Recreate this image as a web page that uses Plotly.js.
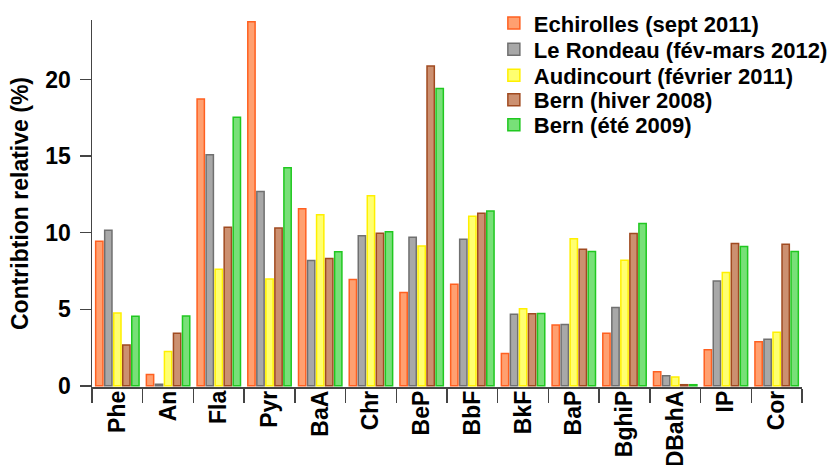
<!DOCTYPE html>
<html>
<head>
<meta charset="utf-8">
<script src="https://cdn.plot.ly/plotly-3.0.1.min.js"></script>
<style>html,body{margin:0;padding:0;background:#fff;}#chart{width:832px;height:465px;}</style>
</head>
<body>
<div id="chart"></div>
<script>
const categories = ["Phe","An","Fla","Pyr","BaA","Chr","BeP","BbF","BkF","BaP","BghiP","DBahA","IP","Cor"];
const seriesNames = ["Echirolles (sept 2011)","Le Rondeau (fév-mars 2012)","Audincourt (février 2011)","Bern (hiver 2008)","Bern (été 2009)"];
const echirolles = [9.45, 0.74, 18.74, 23.78, 11.57, 6.95, 6.1, 6.64, 2.11, 3.97, 3.43, 0.91, 2.35, 2.87];
const leRondeau  = [10.16, 0.1, 15.09, 12.7, 8.18, 9.81, 9.7, 9.58, 4.67, 4.01, 5.12, 0.65, 6.84, 3.04];
const audincourt = [4.75, 2.24, 7.62, 6.97, 11.18, 12.42, 9.14, 11.07, 5.04, 9.6, 8.21, 0.57, 7.4, 3.5];
const bernHiver  = [2.67, 3.43, 10.36, 10.31, 8.31, 9.97, 20.89, 11.27, 4.71, 8.92, 9.95, 0.07, 9.29, 9.25];
const bernEte    = [4.54, 4.56, 17.55, 14.24, 8.75, 10.07, 19.43, 11.42, 4.73, 8.77, 10.6, 0.07, 9.1, 8.77];

const values = [echirolles, leRondeau, audincourt, bernHiver, bernEte];
const fills = ["#FFA070", "#A8A8A8", "#FFFF70", "#CC9070", "#78E078"];
const lines = ["#FF6020", "#707070", "#FFF000", "#A04A20", "#20C820"];
const legendIds = ["legend", "legend2", "legend3", "legend4", "legend5"];
const legendY = [0.991, 0.920, 0.849, 0.782, 0.714];

const fam = "Liberation Sans, Arial, sans-serif";
const bold = (s) => ({family: fam, size: s, color: "#000", weight: "bold"});

const traces = values.map((v, i) => ({
  type: "bar",
  name: seriesNames[i],
  x: categories,
  y: v,
  legend: legendIds[i],
  marker: {color: fills[i], line: {color: lines[i], width: 1.5}},
  hoverinfo: "x+y+name"
}));

const layout = {
  width: 832, height: 465,
  margin: {l: 92, r: 30, t: 20, b: 78, autoexpand: false},
  paper_bgcolor: "#fff", plot_bgcolor: "#fff",
  barmode: "group",
  bargap: 0.11,
  bargroupgap: 0.19,
  font: bold(22),
  showlegend: true,
  xaxis: {
    type: "category",
    tickson: "boundaries",
    ticks: "outside", ticklen: 14, tickcolor: "#444", tickwidth: 1.5,
    showline: true, linecolor: "#444", linewidth: 1.5,
    showgrid: false, zeroline: false,
    tickangle: -90,
    ticklabelstandoff: -7,
    tickfont: bold(23),
    automargin: false
  },
  yaxis: {
    range: [-0.08, 23.9],
    tickvals: [0, 5, 10, 15, 20],
    ticks: "outside", ticklen: 11, tickcolor: "#444", tickwidth: 1.5,
    showline: true, linecolor: "#444", linewidth: 1.5,
    showgrid: false, zeroline: false,
    ticklabelstandoff: 4,
    tickfont: bold(23),
    automargin: false,
    title: {text: "Contribtion relative (%)", standoff: 10, font: bold(23)}
  }
};
legendIds.forEach((id, i) => {
  layout[id] = {
    x: 0.566, xanchor: "left", y: legendY[i], yanchor: "middle",
    font: bold(22), bgcolor: "rgba(0,0,0,0)", itemwidth: 30
  };
});

Plotly.newPlot("chart", traces, layout, {displayModeBar: false, staticPlot: true});
</script>
</body>
</html>
